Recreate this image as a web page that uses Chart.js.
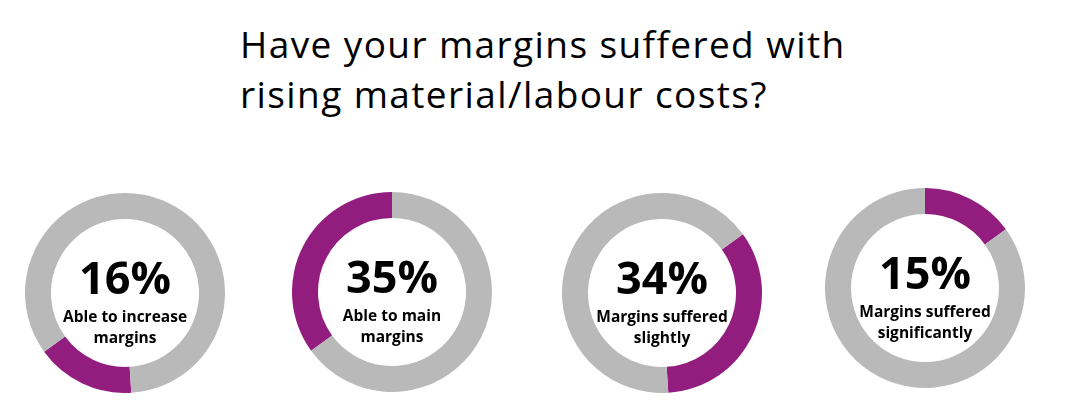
<!doctype html>
<html lang="en">
  <head>
    <meta charset="utf-8">
    <title>Margins Doughnuts</title>
    <style>
      * {
        margin: 0;
        padding: 0;
      }
      body {
        width: 1069px;
        height: 419px;
        background: #fff;
        position: relative;
        overflow: hidden;
        font-family: 'Open Sans', sans-serif;
      }
      .title {
        position: absolute;
        left: 240px;
        top: 19px;
        font-size: 37px;
        line-height: 50px;
        letter-spacing: 1.4px;
        color: #000;
      }
      .chartBox {
        position: absolute;
        width: 200px;
        height: 200px;
      }
    </style>
  </head>
  <body>
    <div class="title">Have your margins suffered with<br>rising material/labour costs?</div>
    <div class="chartBox" style="left: 25px; top: 193px;"><canvas id="c0"></canvas></div>
    <div class="chartBox" style="left: 292px; top: 192px;"><canvas id="c1"></canvas></div>
    <div class="chartBox" style="left: 562px; top: 193px;"><canvas id="c2"></canvas></div>
    <div class="chartBox" style="left: 825px; top: 188px;"><canvas id="c3"></canvas></div>
    <script src="https://cdn.jsdelivr.net/npm/chart.js/dist/chart.umd.min.js"></script>
    <script>
    // values
    const percents = [16, 35, 34, 15];
    const captions = [
      ['Able to increase', 'margins'],
      ['Able to main', 'margins'],
      ['Margins suffered', 'slightly'],
      ['Margins suffered', 'significantly']
    ];
    // where each purple arc begins, in percent of the circle from 12 o'clock
    const startAt = [49, 65, 15, 0];

    const purple = '#931c7f';
    const grey = '#b9b9b9';

    // draws the big number and caption in the hole
    const centerText = {
      id: 'centerText',
      afterDraw(chart, args, opts) {
        const { ctx } = chart;
        const meta = chart.getDatasetMeta(0).data[0];
        const x = meta.x;
        const y = meta.y;
        ctx.save();
        ctx.fillStyle = '#000';
        ctx.textAlign = 'center';
        ctx.textBaseline = 'alphabetic';
        ctx.font = 'bold 45px "Open Sans"';
        ctx.fillText(opts.big, x, y + 1);
        ctx.font = 'bold 15.5px "Open Sans"';
        opts.lines.forEach((t, i) => {
          ctx.fillText(t, x, y + 29 + i * 21);
        });
        ctx.restore();
      }
    };

    percents.forEach((p, i) => {
      new Chart(document.getElementById('c' + i), {
        type: 'doughnut',
        data: {
          labels: ['share', 'rest'],
          datasets: [{
            data: [p, 100 - p],
            backgroundColor: [purple, grey],
            borderWidth: 0
          }]
        },
        options: {
          responsive: true,
          maintainAspectRatio: false,
          animation: false,
          rotation: startAt[i] * 3.6,
          cutout: '74%',
          plugins: {
            legend: { display: false },
            tooltip: { enabled: false },
            centerText: { big: p + '%', lines: captions[i] }
          }
        },
        plugins: [centerText]
      });
    });
    </script>
  </body>
</html>
